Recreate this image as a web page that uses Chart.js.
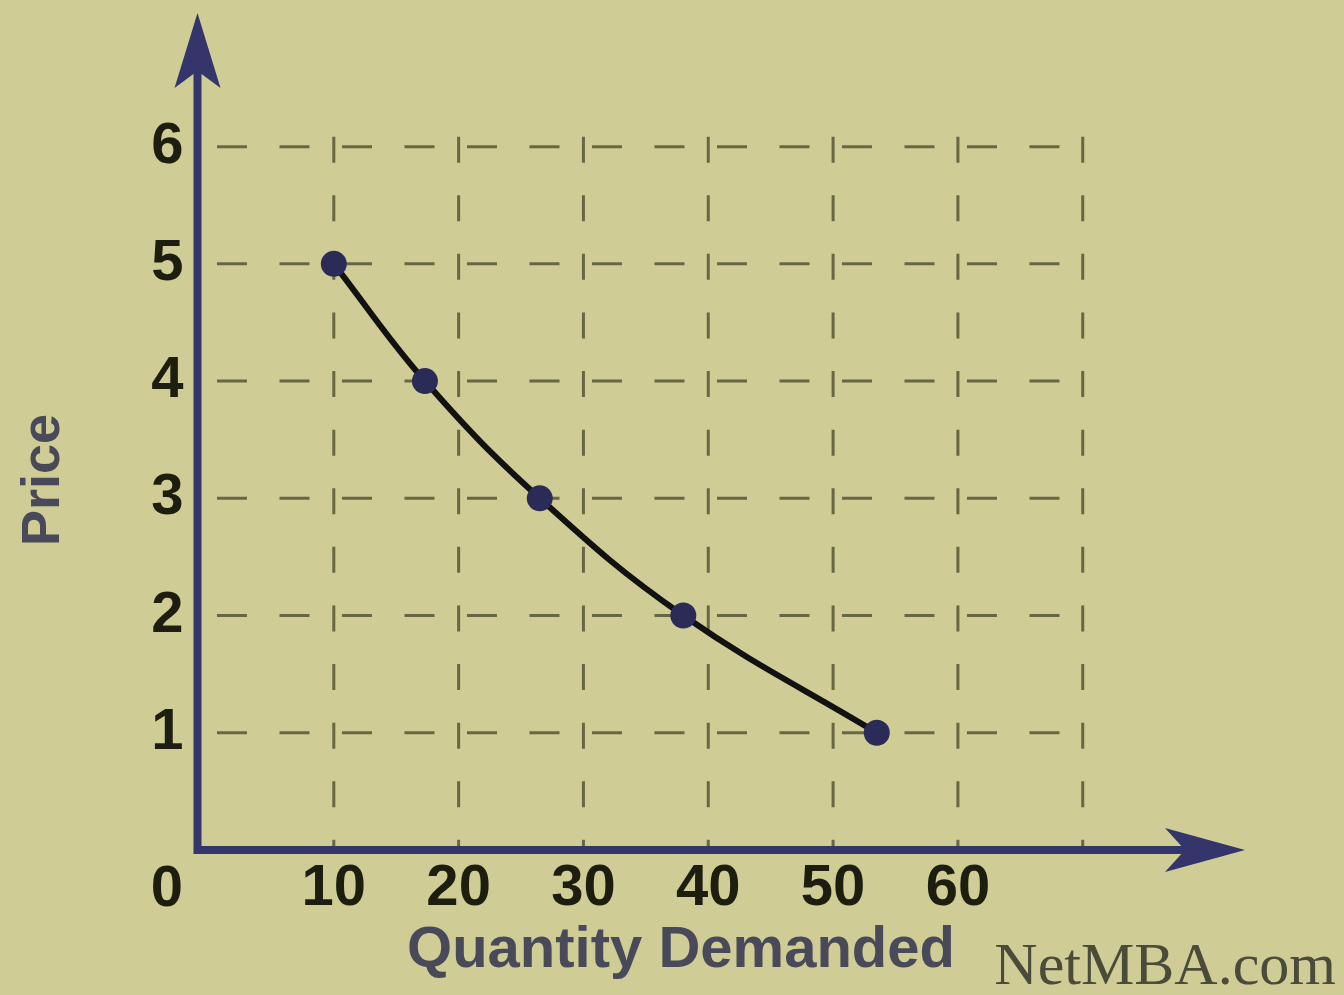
<!DOCTYPE html>
<html>
<head>
<meta charset="utf-8">
<title>Demand curve</title>
<script src="https://cdn.jsdelivr.net/npm/chart.js@4.4.1/dist/chart.umd.min.js"></script>
<style>
  html, body { margin: 0; padding: 0; background: #cfcc95; }
  canvas { display: block; }
</style>
</head>
<body>
<canvas id="demandChart" width="1344" height="995"></canvas>
<script>
// demand schedule
const quantity = [10, 17.3, 26.5, 38, 53.5];
const price = [5, 4, 3, 2, 1];

// ticks and grid
const qtyTicks = [10, 20, 30, 40, 50, 60];
const qtyGrid = [10, 20, 30, 40, 50, 60, 70];
const priceTicks = [1, 2, 3, 4, 5, 6];

const AXIS = '#33356b';
const GRID = 'rgba(70, 70, 40, 0.75)';
const TITLE = '#484a5a';
const FONT = '"Liberation Sans", Arial, sans-serif';

const points = quantity.map((q, i) => ({ x: q, y: price[i] }));

const decor = {
    id: 'decor',
    beforeDatasetsDraw(chart) {
        const { ctx, scales: { x, y } } = chart;
        ctx.save();
        ctx.strokeStyle = GRID;
        ctx.lineWidth = 3;
        // dashed horizontal lines
        ctx.setLineDash([30, 32.5]);
        priceTicks.forEach(v => {
            const py = y.getPixelForValue(v);
            ctx.beginPath();
            ctx.moveTo(x.getPixelForValue(0) + 8, py);
            ctx.lineTo(x.getPixelForValue(70) + 2, py);
            ctx.stroke();
        });
        // dashed vertical lines
        ctx.setLineDash([26, 32.6]);
        const top = y.getPixelForValue(6) - 10;
        qtyGrid.forEach(v => {
            const px = x.getPixelForValue(v);
            ctx.beginPath();
            ctx.moveTo(px, top);
            ctx.lineTo(px, y.getPixelForValue(0));
            ctx.stroke();
        });
        ctx.restore();
    },
    afterDatasetsDraw(chart) {
        const { ctx, chartArea: a } = chart;
        ctx.save();
        ctx.strokeStyle = AXIS;
        ctx.fillStyle = AXIS;
        ctx.lineWidth = 8;
        ctx.lineCap = 'square';
        // axes
        ctx.beginPath();
        ctx.moveTo(a.left, a.top + 50);
        ctx.lineTo(a.left, a.bottom);
        ctx.lineTo(a.right - 50, a.bottom);
        ctx.stroke();
        // y arrow head
        ctx.beginPath();
        ctx.moveTo(a.left, a.top);
        ctx.lineTo(a.left + 23, a.top + 75);
        ctx.lineTo(a.left, a.top + 58);
        ctx.lineTo(a.left - 23, a.top + 75);
        ctx.closePath();
        ctx.fill();
        // x arrow head
        ctx.beginPath();
        ctx.moveTo(a.right, a.bottom);
        ctx.lineTo(a.right - 80, a.bottom - 22);
        ctx.lineTo(a.right - 60, a.bottom);
        ctx.lineTo(a.right - 80, a.bottom + 22);
        ctx.closePath();
        ctx.fill();

        // origin label
        ctx.fillStyle = '#1e1e10';
        ctx.font = 'bold 58px ' + FONT;
        ctx.textAlign = 'center';
        ctx.textBaseline = 'alphabetic';
        ctx.fillText('0', 167, 906);

        // axis titles
        ctx.fillStyle = TITLE;
        ctx.font = 'bold 58px ' + FONT;
        ctx.fillText('Quantity Demanded', 681, 967);
        ctx.save();
        ctx.translate(59, 480);
        ctx.rotate(-Math.PI / 2);
        ctx.font = 'bold 54px ' + FONT;
        ctx.fillText('Price', 0, 0);
        ctx.restore();

        // watermark
        ctx.fillStyle = '#4a4b3a';
        ctx.font = '60px "Liberation Serif", "Times New Roman", serif';
        ctx.textAlign = 'right';
        ctx.fillText('NetMBA.com', 1336, 984);
        ctx.restore();
    }
};

new Chart(document.getElementById('demandChart'), {
    type: 'scatter',
    data: {
        datasets: [{
            data: points,
            showLine: true,
            tension: 0.4,
            borderColor: '#121212',
            borderWidth: 6,
            pointRadius: 13,
            pointBackgroundColor: '#2b2b58',
            pointBorderWidth: 0
        }]
    },
    options: {
        responsive: false,
        animation: false,
        layout: { padding: { top: 13, right: 99, left: 0, bottom: 0 } },
        plugins: { legend: { display: false }, tooltip: { enabled: false } },
        scales: {
            x: {
                type: 'linear',
                min: -0.92,
                max: 83,
                afterBuildTicks: s => { s.ticks = qtyTicks.map(v => ({ value: v })); },
                afterFit: s => { s.height = 145; s.paddingLeft = 0; s.paddingRight = 0; },
                grid: { display: false, drawTicks: false },
                border: { display: false },
                ticks: {
                    color: '#1e1e10',
                    padding: 4,
                    font: { family: FONT, size: 58, weight: 'bold' }
                }
            },
            y: {
                min: 0,
                max: 7.14,
                afterBuildTicks: s => { s.ticks = priceTicks.map(v => ({ value: v })); },
                afterFit: s => { s.width = 197.5; s.paddingTop = 0; s.paddingBottom = 0; },
                grid: { display: false, drawTicks: false },
                border: { display: false },
                ticks: {
                    color: '#1e1e10',
                    padding: 14,
                    font: { family: FONT, size: 58, weight: 'bold' }
                }
            }
        }
    },
    plugins: [decor]
});
</script>
</body>
</html>
